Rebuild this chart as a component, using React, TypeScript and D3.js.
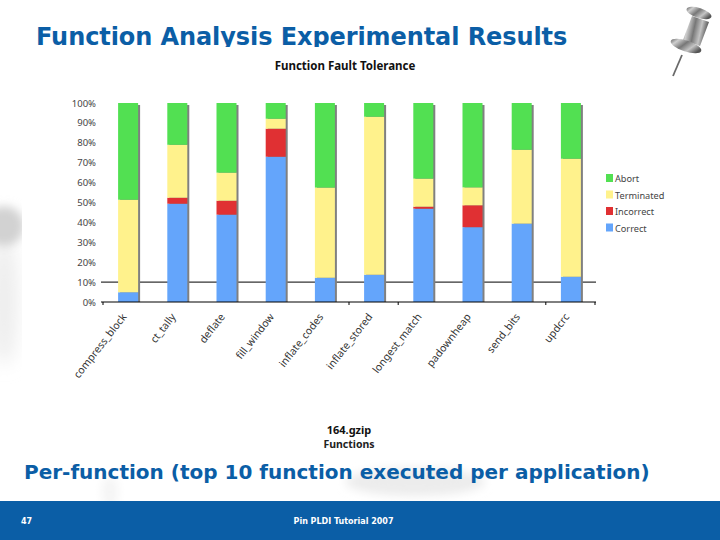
import React from "react";
import * as d3 from "d3";

const categories = ["compress_block","ct_tally","deflate","fill_window","inflate_codes","inflate_stored","longest_match","padownheap","send_bits","updcrc"];
const correct = [4.9,49.4,43.9,73,12.2,13.7,46.9,37.6,39.4,12.7];
const incorrect = [0,3,7,14.1,0,0,1,11,0,0];
const terminated = [46.5,26.6,14.1,5,45.3,79.4,14.1,9,37.1,59.3];
const abort = [48.6,21,35,7.9,42.5,6.9,38,42.4,23.5,28];
const yTicks = [0,10,20,30,40,50,60,70,80,90,100];
const seriesNames = ["Correct","Incorrect","Terminated","Abort"];
const seriesColors = ["#64a5fb","#e03033","#fff28c","#52e052"];
const legendOrder = ["Abort","Terminated","Incorrect","Correct"];
const xTickIdx = [0,5,6,9,10];

const rows = categories.map((c,i)=>({c,Correct:correct[i],Incorrect:incorrect[i],Terminated:terminated[i],Abort:abort[i]}));
const stacks = d3.stack<any>().keys(seriesNames)(rows);

const x = d3.scaleBand<string>().domain(categories).range([103.5,595.5]);
const y = d3.scaleLinear().domain([0,100]).range([302,103]);
const color = d3.scaleOrdinal<string,string>().domain(seriesNames).range(seriesColors);
const BW = 20;
const chartFont = "'Noto Sans', Tahoma, sans-serif";
const slideFont = "'DejaVu Sans', Verdana, sans-serif";
const blue = "#0b5ea6";

function Pin() {
  return (
    <g>
      <defs>
        <linearGradient id="metal" x1="0" y1="0" x2="1" y2="0.25">
          <stop offset="0" stopColor="#4a4a4a"/>
          <stop offset="0.25" stopColor="#cfcfcf"/>
          <stop offset="0.5" stopColor="#777"/>
          <stop offset="0.75" stopColor="#c4c4c4"/>
          <stop offset="1" stopColor="#555"/>
        </linearGradient>
      </defs>
      <line x1="682" y1="55" x2="673" y2="76" stroke="#6a6a6a" strokeWidth="1.8"/>
      <path d="M692 16 L709 22 L700 46 L683 40 Z" fill="url(#metal)"/>
      <ellipse cx="699" cy="13" rx="13" ry="5" transform="rotate(18 699 13)" fill="url(#metal)"/>
      <ellipse cx="686" cy="46" rx="16" ry="5.5" transform="rotate(18 686 46)" fill="url(#metal)"/>
    </g>
  );
}

export default function App() {
  return (
    <svg width={720} height={540} style={{position:"absolute",left:0,top:0,display:"block"}}>
      <defs>
        <filter id="soft" x="-80%" y="-80%" width="260%" height="260%"><feGaussianBlur stdDeviation="9"/></filter>
        <filter id="soft2" x="-80%" y="-80%" width="260%" height="260%"><feGaussianBlur stdDeviation="5"/></filter>
        <clipPath id="titleClip"><rect x="0" y="0" width="720" height="47"/></clipPath>
        <clipPath id="leftClip"><rect x="0" y="150" width="22" height="240"/></clipPath>
        <clipPath id="lowClip"><rect x="0" y="460" width="720" height="41"/></clipPath>
      </defs>
      <rect width={720} height={540} fill="#fff"/>
      <g clipPath="url(#leftClip)">
        <ellipse cx="4" cy="300" rx="14" ry="65" fill="#ededed" filter="url(#soft)"/>
        <ellipse cx="4" cy="226" rx="20" ry="20" fill="#d2d2d2" filter="url(#soft2)"/>
      </g>
      <g clipPath="url(#lowClip)">
        <ellipse cx="415" cy="482" rx="70" ry="14" fill="#ececec" filter="url(#soft2)"/>
        <ellipse cx="110" cy="492" rx="8" ry="16" fill="#f4f4f4" filter="url(#soft2)"/>
      </g>
      <text x={36} y={45} clipPath="url(#titleClip)" fontFamily={slideFont} fontWeight="700" fontSize={24} letterSpacing={-0.08} fill={blue}>Function Analysis Experimental Results</text>
      <Pin/>

      <text x={345} y={70} textAnchor="middle" fontFamily={chartFont} fontWeight="700" fontSize={11.5} fill="#111">Function Fault Tolerance</text>

      <line x1={101} x2={596} y1={y(10)} y2={y(10)} stroke="#000" strokeWidth={1}/>
      {categories.map(c=>(
        <rect key={c} x={x(c)!+x.bandwidth()/2-BW/2+2} y={y(100)+2} width={BW} height={y(0)-y(100)-2} fill="#808080"/>
      ))}
      {stacks.map(s=>(
        <g key={s.key} fill={color(s.key)}>
          {s.map((d:any)=>(
            <rect key={d.data.c} x={x(d.data.c)!+x.bandwidth()/2-BW/2} y={y(d[1])} width={BW} height={y(d[0])-y(d[1])}/>
          ))}
        </g>
      ))}
      <line x1={101} x2={596} y1={y(0)} y2={y(0)} stroke="#000" strokeWidth={1}/>
      {xTickIdx.map(i=>{
        const tx = 103.5+i*x.step()-0.5;
        return <line key={i} x1={tx} x2={tx} y1={y(0)} y2={y(0)+3} stroke="#000"/>;
      })}
      {yTicks.map(t=>(
        <text key={t} x={96} y={y(t)+3.5} textAnchor="end" fontFamily={chartFont} fontSize={9.5} fill="#444">{t}%</text>
      ))}
      {categories.map(c=>(
        <text key={c} transform={`translate(${x(c)!+x.bandwidth()/2-1},${y(0)+15}) rotate(-52)`} textAnchor="end" fontFamily={chartFont} fontSize={10.5} fill="#333">{c}</text>
      ))}
      {legendOrder.map((n,i)=>(
        <g key={n}>
          <rect x={606} y={174+i*16.5} width={7} height={8} fill={color(n)}/>
          <text x={615} y={182+i*16.5} fontFamily={chartFont} fontSize={9.2} fill="#444">{n}</text>
        </g>
      ))}
      <text x={349} y={434} textAnchor="middle" fontFamily={chartFont} fontWeight="700" fontSize={11} fill="#111">164.gzip</text>
      <text x={349} y={448} textAnchor="middle" fontFamily={chartFont} fontWeight="700" fontSize={10.5} fill="#222">Functions</text>

      <text x={24} y={479} fontFamily={slideFont} fontWeight="700" fontSize={20} fill={blue}>Per-function (top 10 function executed per application)</text>
      <rect x={0} y={501} width={720} height={39} fill={blue}/>
      <text x={21} y={524} fontFamily={slideFont} fontWeight="700" fontSize={8} fill="#fff">47</text>
      <text x={343.5} y={524} textAnchor="middle" fontFamily={slideFont} fontWeight="700" fontSize={8} fill="#fff">Pin PLDI Tutorial 2007</text>
    </svg>
  );
}
